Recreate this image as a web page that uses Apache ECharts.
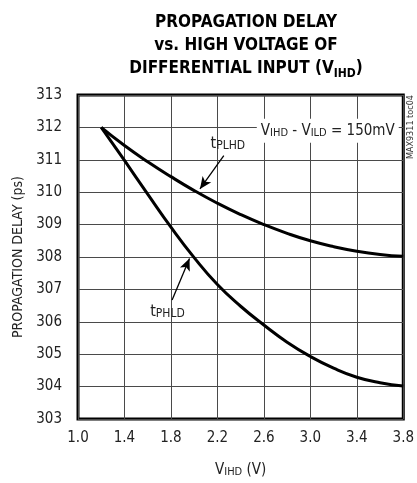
<!DOCTYPE html>
<html>
<head>
<meta charset="utf-8">
<script src="https://cdn.jsdelivr.net/npm/echarts@6/dist/echarts.min.js"></script>
<style>
html,body{margin:0;padding:0;background:#fff;}
#chart{width:417px;height:483px;}
</style>
</head>
<body>
<div id="chart"></div>
<script>
var xValues = [1.2, 1.4, 1.6, 1.8, 2.0, 2.2, 2.4, 2.6, 2.8, 3.0, 3.2, 3.4, 3.6, 3.8];
var tPLHD = [312, 311.44, 310.94, 310.48, 310.05, 309.66, 309.31, 309.0, 308.73, 308.5, 308.32, 308.18, 308.08, 308.02];
var tPHLD = [312, 310.98, 309.94, 308.92, 307.98, 307.15, 306.48, 305.9, 305.37, 304.93, 304.57, 304.29, 304.12, 304.02];
var xTicks = [1.0, 1.4, 1.8, 2.2, 2.6, 3.0, 3.4, 3.8];
var yTicks = [303, 304, 305, 306, 307, 308, 309, 310, 311, 312, 313];

var FONT = '"Liberation Sans Narrow", "DejaVu Sans Condensed", sans-serif';

function pairs(xs, ys) { return xs.map(function (x, i) { return [x, ys[i]]; }); }

var subStyle = function (size) {
  return {fontFamily: FONT, fontSize: size, lineHeight: size, verticalAlign: 'bottom', color: '#222'};
};

var chart = echarts.init(document.getElementById('chart'), null, {renderer: 'canvas'});
chart.setOption({
  animation: false,
  backgroundColor: '#fff',
  title: {
    text: 'PROPAGATION DELAY\nvs. HIGH VOLTAGE OF\nDIFFERENTIAL INPUT (V{sub|IHD})',
    left: 241,
    top: 6,
    textAlign: 'center',
    textStyle: {
      fontFamily: FONT,
      fontWeight: 'bold',
      fontSize: 17,
      lineHeight: 23,
      color: '#000',
      rich: {
        sub: {fontFamily: FONT, fontWeight: 'bold', fontSize: 12, lineHeight: 12, verticalAlign: 'bottom', color: '#000'}
      }
    }
  },
  grid: {
    left: 78, right: 12, top: 95, bottom: 64,
    show: true, borderColor: '#000', borderWidth: 3, containLabel: false
  },
  xAxis: {
    type: 'value', min: 1.0, max: 3.8, interval: 0.4,
    name: 'V{sub|IHD} (V)',
    nameLocation: 'middle', nameGap: 44,
    nameTextStyle: {
      fontFamily: FONT, fontSize: 15, color: '#222',
      rich: {sub: subStyle(11)}
    },
    axisLine: {show: false},
    axisTick: {show: false},
    axisLabel: {
      fontFamily: FONT, fontSize: 15, color: '#222', margin: 12,
      formatter: function (v) { return xTicks.indexOf(+v.toFixed(1)) >= 0 ? v.toFixed(1) : ''; }
    },
    splitLine: {show: true, lineStyle: {color: '#4a4a4a', width: 1}}
  },
  yAxis: {
    type: 'value', min: yTicks[0], max: yTicks[yTicks.length - 1], interval: 1,
    name: 'PROPAGATION DELAY (ps)',
    nameLocation: 'middle', nameGap: 52,
    nameTextStyle: {fontFamily: FONT, fontSize: 14, color: '#222'},
    axisLine: {show: false},
    axisTick: {show: false},
    axisLabel: {fontFamily: FONT, fontSize: 15, color: '#222', margin: 16},
    splitLine: {show: true, lineStyle: {color: '#4a4a4a', width: 1}}
  },
  series: [
    {
      name: 'tPLHD', type: 'line', smooth: 0.5, symbol: 'none',
      data: pairs(xValues, tPLHD),
      lineStyle: {color: '#000', width: 3},
      z: 5,
      markLine: {
        silent: true, symbol: ['none', 'arrow'], symbolSize: [8, 12],
        label: {show: false},
        lineStyle: {color: '#000', width: 1.3, type: 'solid'},
        data: [[{coord: [2.255, 311.13]}, {coord: [2.05, 310.1]}]]
      },
      markPoint: {
        silent: true, symbol: 'rect', symbolSize: 0,
        data: [
          {
            coord: [2.29, 311.5],
            label: {
              show: true, position: 'inside',
              formatter: 't{sub|PLHD}',
              fontFamily: FONT, fontSize: 16, color: '#222',
              rich: {sub: subStyle(12)}
            }
          },
          {
            coord: [3.15, 311.9],
            label: {
              show: true, position: 'inside',
              formatter: 'V{sub|IHD} - V{sub|ILD} = 150mV',
              fontFamily: FONT, fontSize: 15, color: '#222',
              backgroundColor: '#fff', padding: [5, 4, 4, 4],
              rich: {sub: subStyle(11)}
            }
          }
        ]
      }
    },
    {
      name: 'tPHLD', type: 'line', smooth: 0.5, symbol: 'none',
      data: pairs(xValues, tPHLD),
      lineStyle: {color: '#000', width: 3},
      z: 5,
      markLine: {
        silent: true, symbol: ['none', 'arrow'], symbolSize: [8, 12],
        label: {show: false},
        lineStyle: {color: '#000', width: 1.3, type: 'solid'},
        data: [[{coord: [1.81, 306.67]}, {coord: [1.96, 307.95]}]]
      },
      markPoint: {
        silent: true, symbol: 'rect', symbolSize: 0,
        data: [
          {
            coord: [1.77, 306.3],
            label: {
              show: true, position: 'inside',
              formatter: 't{sub|PHLD}',
              fontFamily: FONT, fontSize: 16, color: '#222',
              rich: {sub: subStyle(12)}
            }
          }
        ]
      }
    }
  ],
  graphic: [
    {
      type: 'text', x: 411, y: 95, rotation: Math.PI / 2, z: 100,
      style: {text: 'MAX9311 toc04', fontFamily: FONT, fontSize: 9, fill: '#333', textAlign: 'right', textVerticalAlign: 'middle'}
    }
  ]
});
</script>
</body>
</html>
